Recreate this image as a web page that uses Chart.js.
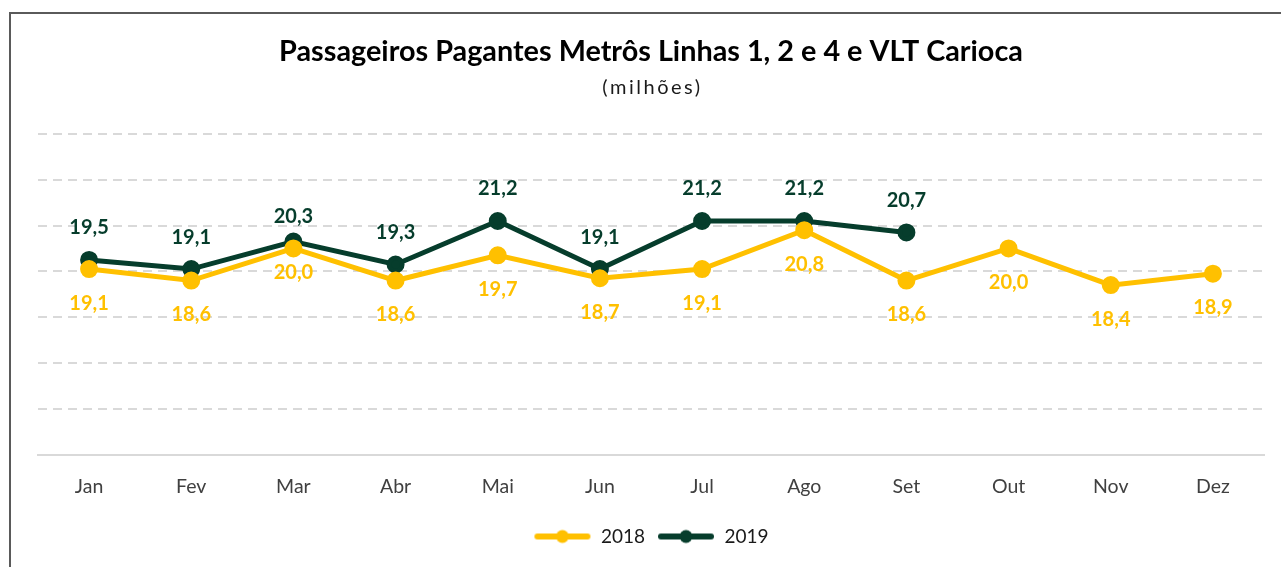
<!DOCTYPE html>
<html>
<head>
<meta charset="utf-8">
<script src="https://cdn.jsdelivr.net/npm/chart.js@4.4.1/dist/chart.umd.min.js"></script>
<style>
  html, body { margin: 0; padding: 0; background: #fff; overflow: hidden; }
  #wrap { position: relative; width: 1281px; height: 567px; }
  #frame { position: absolute; left: 9px; top: 12px; width: 1400px; height: 700px;
           border-top: 2px solid #5a5a5a; border-left: 2px solid #5a5a5a; pointer-events: none; }
  canvas { position: absolute; left: 0; top: 0; }
</style>
</head>
<body>
<div id="wrap">
  <canvas id="c" width="1281" height="567"></canvas>
  <div id="frame"></div>
</div>
<script>
const months = ["Jan","Fev","Mar","Abr","Mai","Jun","Jul","Ago","Set","Out","Nov","Dez"];
const series2018 = [19.1, 18.6, 20.0, 18.6, 19.7, 18.7, 19.1, 20.8, 18.6, 20.0, 18.4, 18.9];
const series2019 = [19.5, 19.1, 20.3, 19.3, 21.2, 19.1, 21.2, 21.2, 20.7, null, null, null];
const seriesNames = ["2018", "2019"];
const yMin = 11, yMax = 25, yStep = 2;
const titleText = "Passageiros Pagantes Metrôs Linhas 1, 2 e 4 e VLT Carioca";
const subtitleText = "(milhões)";

const GOLD = "#FFC000";
const GREEN = "#063D2C";
const FONT = "Lato, 'Open Sans', sans-serif";

function legendIcon(color) {
  const c = document.createElement("canvas");
  c.width = 58; c.height = 16;
  const x = c.getContext("2d");
  x.strokeStyle = color; x.lineWidth = 6; x.lineCap = "round";
  x.beginPath(); x.moveTo(4, 8); x.lineTo(54, 8); x.stroke();
  x.fillStyle = color;
  x.beginPath(); x.arc(29, 8, 6.5, 0, Math.PI * 2); x.fill();
  return c;
}
const icons = [legendIcon(GOLD), legendIcon(GREEN)];

const subtitlePlugin = {
  id: "spacedSubtitle",
  afterDraw(chart) {
    const ctx = chart.ctx;
    ctx.save();
    ctx.font = "20px " + FONT;
    ctx.fillStyle = "#1a1a1a";
    ctx.textAlign = "center";
    ctx.textBaseline = "middle";
    if ("letterSpacing" in ctx) ctx.letterSpacing = "2.5px";
    const cx = (chart.chartArea.left + chart.chartArea.right) / 2 + 1.5;
    ctx.fillText(subtitleText, cx, 88);
    ctx.restore();
  }
};

const labelPlugin = {
  id: "pointLabels",
  afterDatasetsDraw(chart) {
    const ctx = chart.ctx;
    ctx.save();
    ctx.font = "bold 20px " + FONT;
    ctx.textAlign = "center";
    ctx.textBaseline = "middle";
    chart.data.datasets.forEach((ds, di) => {
      const meta = chart.getDatasetMeta(di);
      meta.data.forEach((pt, i) => {
        const v = ds.data[i];
        if (v === null || v === undefined) return;
        const txt = v.toFixed(1).replace(".", ",");
        let dy;
        if (di === 0) dy = (i === 2) ? 24 : 34;
        else dy = (i === 2) ? -25 : -32;
        ctx.fillStyle = ds.borderColor;
        ctx.fillText(txt, pt.x, pt.y + dy);
      });
    });
    ctx.restore();
  }
};

new Chart(document.getElementById("c"), {
  type: "line",
  data: {
    labels: months,
    datasets: [
      { label: seriesNames[0], data: series2018, borderColor: GOLD, backgroundColor: GOLD,
        pointBackgroundColor: GOLD, pointBorderColor: GOLD, borderWidth: 5, pointRadius: 6.5,
        pointHoverRadius: 6.5, tension: 0 },
      { label: seriesNames[1], data: series2019, borderColor: GREEN, backgroundColor: GREEN,
        pointBackgroundColor: GREEN, pointBorderColor: GREEN, borderWidth: 5, pointRadius: 6.5,
        pointHoverRadius: 6.5, tension: 0 }
    ]
  },
  options: {
    responsive: false,
    animation: false,
    layout: { padding: { left: 38, right: 17, top: 0, bottom: 11 } },
    plugins: {
      title: {
        display: true,
        text: titleText,
        color: "#000",
        font: { family: FONT, size: 28.8, weight: "bold", lineHeight: 1.2 },
        padding: { top: 34.8, bottom: 64.6 }
      },
      legend: {
        position: "bottom",
        labels: {
          usePointStyle: true,
          pointStyleWidth: 58,
          color: "#1a1a1a",
          font: { family: FONT, size: 19 },
          padding: 12,
          generateLabels(chart) {
            return chart.data.datasets.map((ds, i) => ({
              text: ds.label, fillStyle: ds.borderColor, strokeStyle: ds.borderColor,
              fontColor: "#1a1a1a", lineWidth: 0, pointStyle: icons[i], hidden: false, datasetIndex: i
            }));
          }
        }
      },
      tooltip: { enabled: false }
    },
    scales: {
      x: {
        offset: true,
        grid: { display: false },
        border: { display: true, color: "#d9d9d9", width: 2 },
        ticks: { color: "#404040", font: { family: FONT, size: 19.5 }, padding: 12 },
        afterFit(scale) { scale.height += 5; }
      },
      y: {
        min: yMin, max: yMax,
        ticks: { display: false, stepSize: yStep },
        border: { display: false, dash: [9, 6] },
        grid: {
          color: (c) => (c.tick && c.tick.value === yMin) ? "rgba(0,0,0,0)" : "#d9d9d9",
          lineWidth: 2,
          drawTicks: false
        }
      }
    }
  },
  plugins: [labelPlugin, subtitlePlugin]
});
</script>
</body>
</html>
